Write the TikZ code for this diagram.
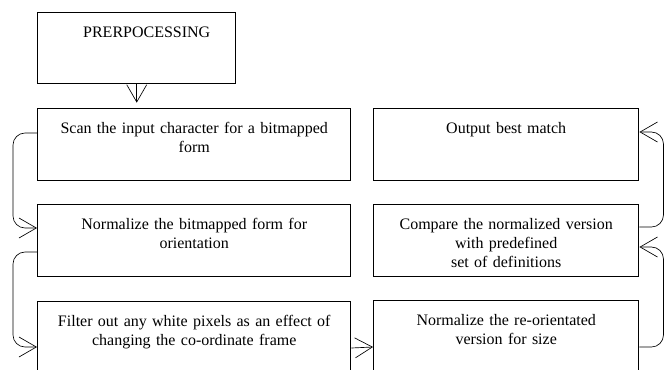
\documentclass[tikz,border=0pt]{standalone}
\usepackage{fontspec}
\setmainfont{Liberation Serif}
\usetikzlibrary{arrows.meta}
\begin{document}
\begin{tikzpicture}[x=0.75pt,y=-0.75pt,
    stepbox/.style={draw,line width=1.1pt,inner xsep=0pt,inner ysep=0pt,
        anchor=north west,align=center,minimum height=54pt,
        text height=18.75pt,text depth=35.25pt,
        font=\fontsize{12pt}{14pt}\selectfont},
    widebox/.style={stepbox,minimum width=234.75pt,text width=234.75pt},
    narrowbox/.style={stepbox,minimum width=198.75pt,text width=198.75pt},
    link/.style={line width=0.5pt,rounded corners=9pt,
        -{Straight Barb[length=13pt,width=15pt,line width=0.5pt]}}]
    \useasboundingbox (0,0) rectangle (669,369);
    \clip (0,0) rectangle (669,369);
    \node(prep)[stepbox,minimum width=148.5pt,text width=148.5pt,minimum height=53.25pt,text depth=34.5pt] at (37,12){\hspace*{15pt}PRERPOCESSING};
    \node(scan)[widebox] at (37,108){Scan the input character for a bitmapped\\form};
    \node(orient)[widebox] at (37,204){Normalize the bitmapped form for\\orientation};
    \node(filter)[widebox] at (37,301){Filter out any white pixels as an effect of\\changing the co-ordinate frame};
    \node(best)[narrowbox] at (373,108){Output best match};
    \node(compare)[narrowbox] at (373,204){Compare the normalized version\\with predefined\\set of definitions};
    \node(size)[narrowbox] at (373,300){Normalize the re-orientated\\version for size};
    \draw[link,shorten >=4pt] (prep.south) -- (prep.south |- scan.north);
    \draw[link] ([yshift=-18.75pt]scan.north west) -- ++(-24,0) |- ([yshift=-18pt]orient.north west);
    \draw[link] ([yshift=-36pt]orient.north west) -- ++(-24,0) |- ([yshift=-34.5pt]filter.north west);
    \draw[link] ([yshift=-35.25pt]filter.north east) -- ([yshift=-35.25pt]size.north west);
    \draw[link] ([yshift=-35.25pt]size.north east) -- ++(24,0) |- ([yshift=-32.25pt]compare.north east);
    \draw[link] ([yshift=-17.25pt]compare.north east) -- ++(24,0) |- ([yshift=-18pt]best.north east);
\end{tikzpicture}
\end{document}
